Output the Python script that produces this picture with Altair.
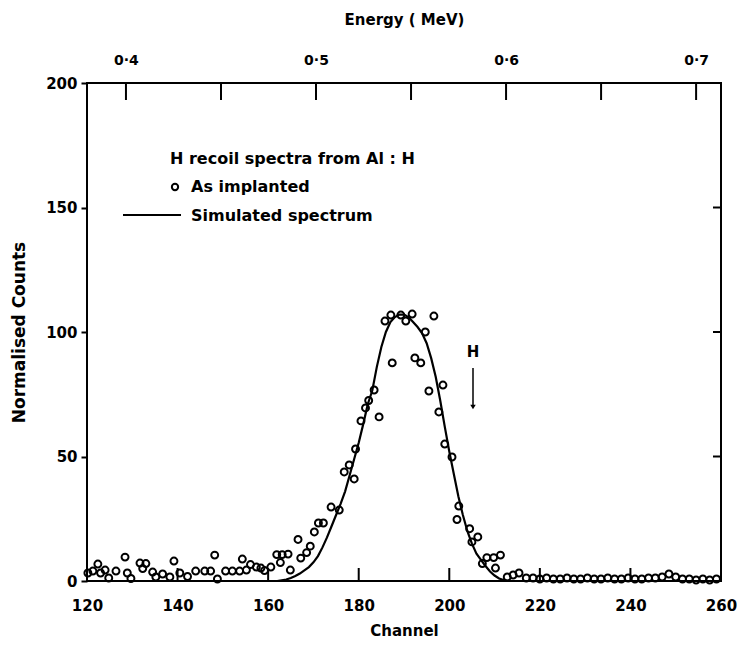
import altair as alt
import pandas as pd

# ---------------- data ----------------
meas_channel = [
    120.2, 121.3, 122.4, 123.0, 124.0, 124.8, 126.4, 128.4, 128.9, 129.7,
    131.7, 132.3, 133.0, 134.5, 135.2, 136.7, 138.3, 139.2, 140.5, 142.2,
    144.0, 146.0, 147.3, 148.2, 148.8, 150.6, 152.1, 153.7, 154.3, 155.2,
    156.1, 157.4, 158.4, 159.2, 160.6, 161.9, 162.7, 163.1, 164.4, 164.9,
    166.6, 167.2, 168.5, 169.3, 170.2, 171.1, 172.2, 173.9, 175.7, 176.8,
    177.9, 179.0, 179.3, 180.5, 181.5, 182.2, 183.4, 184.5, 185.8, 187.1,
    187.4, 189.3, 190.4, 191.8, 192.4, 193.7, 194.7, 195.5, 196.6, 197.7,
    198.6, 199.0, 200.6, 201.7, 202.1, 204.5, 205.0, 206.3, 207.3, 208.3,
    209.8, 210.2, 211.3, 212.8, 214.1, 215.4, 217.0,
    218.5, 220.0, 221.5, 223.0, 224.5, 226.0, 227.5, 229.0, 230.5, 232.0,
    233.5, 235.0, 236.5, 238.0, 239.5, 241.0, 242.5, 244.0, 245.5, 247.0,
    248.5, 250.0, 251.5, 253.0, 254.5, 256.0, 257.5, 259.0,
]
meas_counts = [
    3.2, 4.0, 6.8, 3.2, 4.4, 1.2, 4.0, 9.6, 3.2, 1.0,
    7.2, 5.0, 7.0, 3.6, 1.6, 2.8, 1.6, 8.0, 3.2, 1.8,
    4.0, 4.0, 4.0, 10.4, 0.8, 4.0, 4.0, 4.0, 8.8, 4.4,
    6.6, 5.6, 5.2, 4.2, 5.6, 10.6, 7.4, 10.6, 10.8, 4.4,
    16.7, 9.2, 11.4, 14.0, 19.7, 23.3, 23.3, 29.7, 28.5, 43.8,
    46.6, 41.0, 53.0, 64.3, 69.5, 72.5, 76.7, 65.9, 104.4, 106.8,
    87.6, 106.8, 104.4, 107.2, 89.6, 87.6, 100.0, 76.3, 106.4, 67.9,
    78.7, 55.0, 49.8, 24.7, 30.1, 21.0, 15.7, 17.7, 7.0, 9.4,
    9.4, 5.2, 10.4, 1.6, 2.4, 3.2, 1.2,
    1.2, 0.8, 1.2, 0.8, 0.8, 1.2, 0.8, 0.8, 1.2, 0.8,
    0.8, 1.2, 0.8, 0.8, 1.2, 0.8, 0.8, 1.2, 1.2, 1.6,
    2.8, 1.6, 0.8, 0.8, 0.4, 0.8, 0.4, 0.8,
]

sim_channel = list(range(162, 214))
sim_counts = [
    0.0, 0.3, 0.6, 1.2, 2.0, 3.0, 4.3, 5.6, 7.5, 10.0,
    13.5, 17.5, 22.0, 26.5, 31.0, 36.0, 42.5, 49.0, 55.5, 63.0,
    71.0, 76.5, 86.0, 94.0, 100.0, 104.0, 106.0, 107.0, 107.0, 106.0,
    104.0, 102.0, 99.5, 95.5, 89.5, 82.0, 72.5, 62.0, 52.0, 43.0,
    34.0, 26.5, 20.0, 15.0, 11.0, 8.5, 6.0, 3.8, 2.2, 1.0,
    0.4, 0.0,
]

channel_ticks = [120, 140, 160, 180, 200, 220, 240, 260]
inner_channel_ticks = [140, 160, 180, 200, 220, 240]
count_ticks = [0, 50, 100, 150, 200]
inner_count_ticks = [50, 100, 150]
energy_ticks = [0.4, 0.45, 0.5, 0.55, 0.6, 0.65, 0.7]
energy_domain = [0.3795, 0.7131]

legend_title = ["H recoil spectra from Al : H"]
legend_points = ["As implanted"]
legend_line = ["Simulated spectrum"]
marker_label = ["H"]

# ---------------- chart ----------------
W, H = 634, 498
FONT = "DejaVu Sans"
FS = 15
LFS = 16

df_meas = pd.DataFrame({"channel": meas_channel, "count": meas_counts})
df_sim = pd.DataFrame({"channel": sim_channel, "count": sim_counts})

x_scale = alt.Scale(domain=[120, 260], nice=False, zero=False)
y_scale = alt.Scale(domain=[0, 200], nice=False)

bottom_axis = alt.Axis(
    orient="bottom", values=channel_ticks, ticks=False, domain=False, grid=False,
    title="Channel", labelFont=FONT, labelFontSize=FS, labelFontWeight="bold",
    labelColor="black", labelPadding=17, titleFont=FONT, titleFontSize=FS,
    titleFontWeight="bold", titleColor="black", titlePadding=10, labelFlush=False,
)
left_axis = alt.Axis(
    orient="left", values=count_ticks, ticks=True, tickSize=6, tickWidth=2,
    tickColor="black", domain=False, grid=False, title="Normalised Counts",
    labelFont=FONT, labelFontSize=FS, labelFontWeight="bold", labelColor="black",
    labelPadding=4, titleFont=FONT, titleFontSize=17, titleFontWeight="bold",
    titleColor="black", titlePadding=17, labelFlush=False,
)
top_axis = alt.Axis(
    orient="top", values=energy_ticks, ticks=False, domain=False, grid=False,
    title="Energy ( MeV)",
    labelExpr="round(datum.value*20) % 2 == 0 ? replace(format(datum.value, '.1f'), '.', '·') : ''",
    labelFont=FONT, labelFontSize=FS - 1, labelFontWeight="bold", labelColor="black",
    labelPadding=16, titleFont=FONT, titleFontSize=FS, titleFontWeight="bold",
    titleColor="black", titlePadding=26, labelFlush=False,
)

points = alt.Chart(df_meas).mark_point(
    shape="circle", filled=False, size=48, strokeWidth=2, color="black", opacity=1
).encode(
    x=alt.X("channel:Q", scale=x_scale, axis=bottom_axis),
    y=alt.Y("count:Q", scale=y_scale, axis=left_axis),
)

sim = alt.Chart(df_sim).mark_line(color="black", strokeWidth=2.2).encode(
    x=alt.X("channel:Q", scale=x_scale),
    y=alt.Y("count:Q", scale=y_scale),
)

bottom_ticks = alt.Chart(pd.DataFrame({"channel": inner_channel_ticks})).mark_rule(
    color="black", strokeWidth=2
).encode(
    x=alt.X("channel:Q", scale=x_scale),
    y=alt.value(H), y2=alt.value(H - 13),
)

right_ticks = alt.Chart(pd.DataFrame({"count": inner_count_ticks})).mark_rule(
    color="black", strokeWidth=2
).encode(
    y=alt.Y("count:Q", scale=y_scale),
    x=alt.value(W - 8), x2=alt.value(W),
)

main = alt.layer(points, sim, bottom_ticks, right_ticks)

energy_layer = alt.Chart(pd.DataFrame({"energy": energy_ticks})).mark_rule(
    color="black", strokeWidth=2
).encode(
    x=alt.X("energy:Q", scale=alt.Scale(domain=energy_domain, nice=False, zero=False), axis=top_axis),
    y=alt.value(0), y2=alt.value(17),
)

one = pd.DataFrame({"a": [0]})

leg_title = alt.Chart(pd.DataFrame({"t": legend_title})).mark_text(
    font=FONT, fontSize=LFS, fontWeight="bold", align="left", baseline="middle", color="black"
).encode(x=alt.value(83), y=alt.value(76), text="t:N")

leg_pt_text = alt.Chart(pd.DataFrame({"t": legend_points})).mark_text(
    font=FONT, fontSize=LFS, fontWeight="bold", align="left", baseline="middle", color="black"
).encode(x=alt.value(104), y=alt.value(104), text="t:N")

leg_pt = alt.Chart(one).mark_point(
    shape="circle", filled=False, size=40, strokeWidth=2, color="black", opacity=1
).encode(x=alt.value(88), y=alt.value(104))

leg_line_text = alt.Chart(pd.DataFrame({"t": legend_line})).mark_text(
    font=FONT, fontSize=LFS, fontWeight="bold", align="left", baseline="middle", color="black"
).encode(x=alt.value(104), y=alt.value(133), text="t:N")

leg_line = alt.Chart(one).mark_rule(color="black", strokeWidth=2).encode(
    x=alt.value(36), x2=alt.value(94), y=alt.value(132)
)

h_text = alt.Chart(pd.DataFrame({"t": marker_label})).mark_text(
    font=FONT, fontSize=FS, fontWeight="bold", align="center", baseline="middle", color="black"
).encode(x=alt.value(386), y=alt.value(269), text="t:N")

h_rule = alt.Chart(one).mark_rule(color="black", strokeWidth=1.5).encode(
    x=alt.value(386), y=alt.value(285), y2=alt.value(323)
)

h_head = alt.Chart(one).mark_point(
    shape="triangle-down", filled=True, size=30, color="black", opacity=1
).encode(x=alt.value(386), y=alt.value(324))

chart = alt.layer(
    main, energy_layer,
    leg_title, leg_pt_text, leg_pt, leg_line_text, leg_line,
    h_text, h_rule, h_head,
).resolve_scale(x="independent").properties(
    width=W, height=H,
    padding={"left": 79, "top": 75, "right": 16, "bottom": 60},
    autosize=alt.AutoSizeParams(type="none"),
    background="white",
).configure_view(stroke="black", strokeWidth=2)

chart.save("out.html", embed_options={"renderer": "svg", "actions": False})
